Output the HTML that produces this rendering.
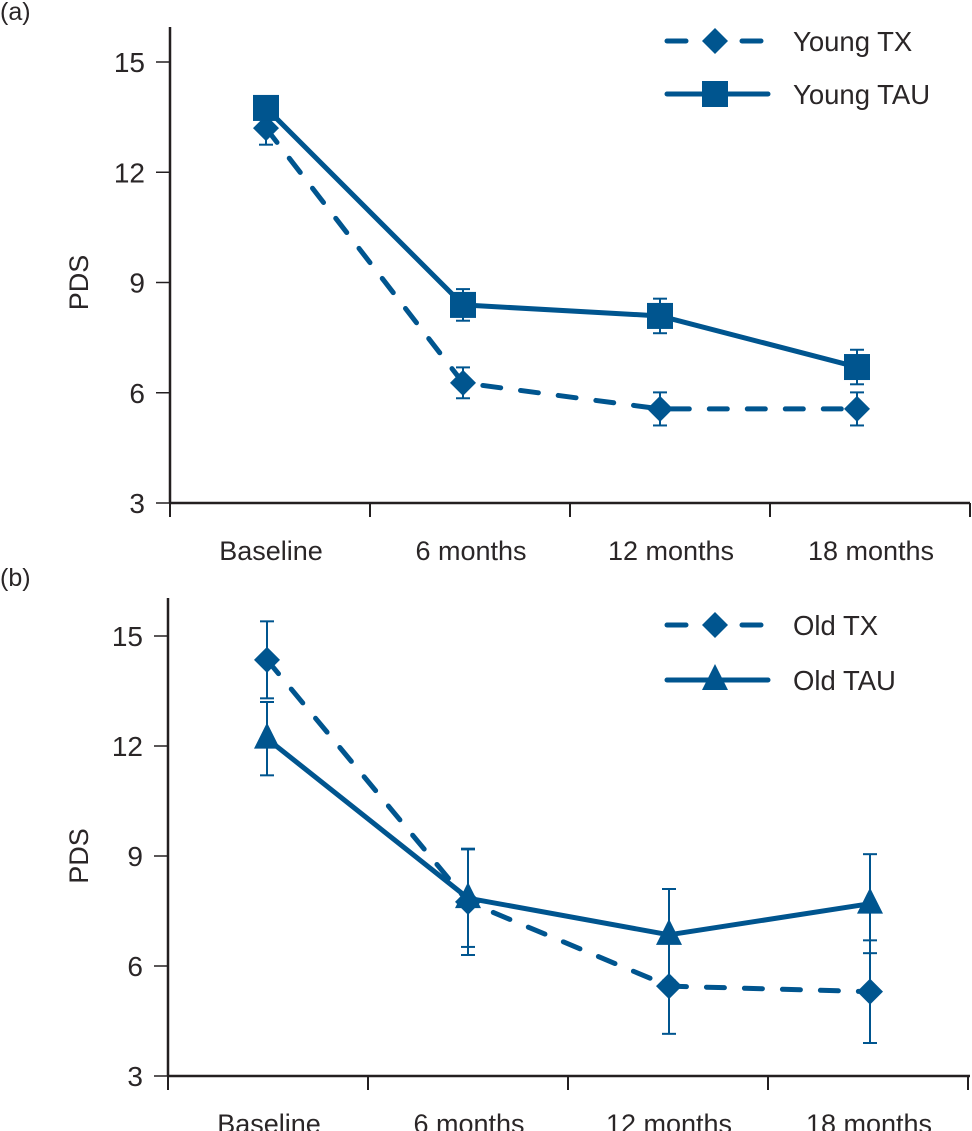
<!DOCTYPE html>
<html><head><meta charset="utf-8"><style>
html,body{margin:0;padding:0;background:#fff;}
svg{display:block;font-family:"Liberation Sans",sans-serif;}
text{fill:#2a2627;}
</style></head><body>
<svg id="chart" width="972" height="1131" viewBox="0 0 972 1131" xmlns="http://www.w3.org/2000/svg"></svg>
<script>
const categories = ["Baseline","6 months","12 months","18 months"];
const yTicks = [3,6,9,12,15];
const youngTX = [13.2,6.27,5.56,5.56];
const youngTXErr = [0.45,0.42,0.45,0.45];
const youngTAU = [13.75,8.39,8.09,6.7];
const youngTAUErr = [0.25,0.43,0.47,0.47];
const oldTX = [14.35,7.75,5.45,5.3];
const oldTXErr = [1.05,1.45,1.3,1.4];
const oldTAU = [12.2,7.85,6.85,7.7];
const oldTAUErr = [1.0,1.33,1.25,1.35];

const NS="http://www.w3.org/2000/svg";
const svg=document.getElementById('chart');
const BLUE="#00558f", AX="#231f20";
function mk(tag,attrs,parent){const e=document.createElementNS(NS,tag);for(const k in attrs)e.setAttribute(k,attrs[k]);(parent||svg).appendChild(e);return e;}

function panel(p){
  const g=mk('g',{});
  
  
  const y=v=>p.y15+(15-v)*(p.y3-p.y15)/12;
  const xc=i=>p.c0+p.cw*i;
  const lab=mk('text',{x:0,y:p.labY,'font-size':25},g);lab.textContent=p.label;
  
  
  const ya=mk('line',{x1:p.ax,y1:p.top,x2:p.ax,y2:p.y3,stroke:AX,'stroke-width':2.5},g);
  
  
  const xa=mk('line',{x1:p.ax-1,y1:p.y3,x2:970,y2:p.y3,stroke:AX,'stroke-width':2.5},g);
  
  
  yTicks.forEach(t=>{
    mk('line',{x1:p.ax-14,y1:y(t),x2:p.ax,y2:y(t),stroke:AX,'stroke-width':1.5},g);
    const tx=mk('text',{x:p.ax-25,y:y(t)+10,'font-size':28,'text-anchor':'end'},g);tx.textContent=t;
    
    
  });
  for(let i=0;i<=4;i++){mk('line',{x1:p.ax+200*i,y1:p.y3,x2:p.ax+200*i,y2:p.y3+14,stroke:AX,'stroke-width':2},g);}
  categories.forEach((c,i)=>{
    const t=mk('text',{x:p.ax+101+200*i,y:p.y3+57,'font-size':27,'text-anchor':'middle'},g);t.textContent=c;
    
    
  });
  const yt=mk('text',{x:0,y:0,'font-size':27,'text-anchor':'middle',transform:`translate(88,${(p.y15+p.y3)/2}) rotate(-90)`},g);yt.textContent="PDS";
  
  
  function marker(type,cx,cy,par){
    if(type==='diamond') return mk('polygon',{points:`${cx},${cy-13} ${cx+13},${cy} ${cx},${cy+13} ${cx-13},${cy}`,fill:BLUE},par);
    if(type==='square') return mk('rect',{x:cx-13,y:cy-13,width:26,height:26,fill:BLUE},par);
    return mk('polygon',{points:`${cx},${cy-16} ${cx+13},${cy+10} ${cx-13},${cy+10}`,fill:BLUE},par);
  }
  p.series.forEach(s=>{
    const sg=mk('g',{},g);
    
    
    s.vals.forEach((v,i)=>{
      const x=xc(i);
      mk('line',{x1:x,y1:y(v+s.err[i]),x2:x,y2:y(v-s.err[i]),stroke:BLUE,'stroke-width':2},sg);
      mk('line',{x1:x-7,y1:y(v+s.err[i]),x2:x+7,y2:y(v+s.err[i]),stroke:BLUE,'stroke-width':2},sg);
      mk('line',{x1:x-7,y1:y(v-s.err[i]),x2:x+7,y2:y(v-s.err[i]),stroke:BLUE,'stroke-width':2},sg);
    });
    const pts=s.vals.map((v,i)=>xc(i)+','+y(v)).join(' ');
    const attrs={points:pts,fill:'none',stroke:BLUE,'stroke-width':5,'stroke-linecap':'round','stroke-linejoin':'round'};
    if(s.dash)attrs['stroke-dasharray']='18 20';
    mk('polyline',attrs,sg);
    s.vals.forEach((v,i)=>{const m=marker(s.marker,xc(i),y(v),sg);
      
      });
    const lg=mk('g',{},g);
    
    
    const ly=s.legY;
    if(s.dash){
      mk('line',{x1:667,y1:ly,x2:686,y2:ly,stroke:BLUE,'stroke-width':5,'stroke-linecap':'round'},lg);
      mk('line',{x1:742,y1:ly,x2:761,y2:ly,stroke:BLUE,'stroke-width':5,'stroke-linecap':'round'},lg);
    } else {
      mk('line',{x1:667,y1:ly,x2:768,y2:ly,stroke:BLUE,'stroke-width':5,'stroke-linecap':'round'},lg);
    }
    marker(s.marker,715,ly,lg);
    const lt=mk('text',{x:793,y:ly+10,'font-size':27.5},lg);lt.textContent=s.label;
  });
}
panel({name:'panel-a',label:'(a)',labY:20,ax:170,top:27,y15:62,y3:503,c0:266,cw:197,
  series:[
    {key:'young-tx',label:'Young TX',vals:youngTX,err:youngTXErr,marker:'diamond',dash:true,legY:41},
    {key:'young-tau',label:'Young TAU',vals:youngTAU,err:youngTAUErr,marker:'square',dash:false,legY:94}
  ]});
panel({name:'panel-b',label:'(b)',labY:586,ax:168,top:598,y15:636,y3:1076,c0:267,cw:201,
  series:[
    {key:'old-tx',label:'Old TX',vals:oldTX,err:oldTXErr,marker:'diamond',dash:true,legY:625},
    {key:'old-tau',label:'Old TAU',vals:oldTAU,err:oldTAUErr,marker:'triangle',dash:false,legY:680}
  ]});
</script>
</body></html>
